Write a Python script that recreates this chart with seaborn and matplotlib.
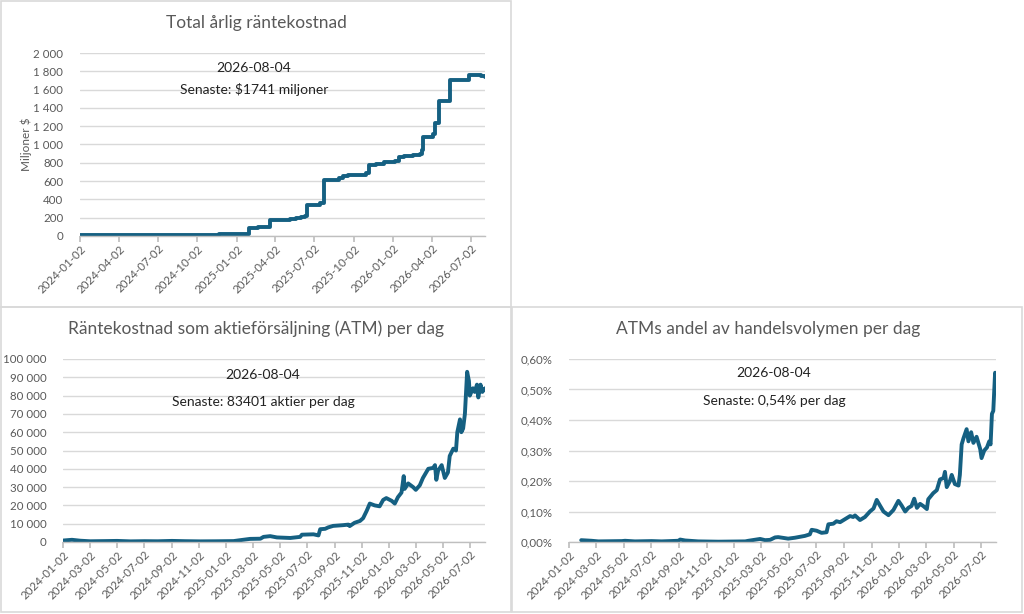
import pandas as pd
import matplotlib
matplotlib.use("Agg")
import matplotlib.pyplot as plt
import matplotlib.dates as mdates
import matplotlib.ticker as mticker
from matplotlib.patches import Rectangle
import seaborn as sns

# Total annual interest cost, step series (date of change, level in MUSD)
cost_dates = ["2024-01-02", "2024-06-13", "2024-07-04", "2024-09-30", "2024-10-15",
              "2024-11-21", "2025-01-30", "2025-02-20", "2025-03-20", "2025-04-20",
              "2025-05-05", "2025-05-21", "2025-06-01", "2025-06-09", "2025-06-14",
              "2025-07-14", "2025-07-25", "2025-08-29", "2025-09-06", "2025-09-18",
              "2025-10-11", "2025-10-31", "2025-11-07", "2025-11-23", "2025-12-12",
              "2026-01-05", "2026-01-16", "2026-01-28", "2026-02-16", "2026-03-05",
              "2026-03-09", "2026-03-12", "2026-04-04", "2026-04-10", "2026-04-18",
              "2026-05-14", "2026-06-28", "2026-07-26", "2026-07-31", "2026-08-04"]
cost_values = [10, 16, 9, 13, 9, 20, 85, 95, 172, 180,
               188, 195, 205, 220, 340, 360, 615, 630, 655, 665,
               672, 690, 780, 792, 810, 825, 860, 870, 885, 895,
               940, 1078, 1112, 1230, 1478, 1706, 1755, 1750, 1745, 1741]

# Shares sold via ATM per day
atm_dates = ["2024-01-02", "2024-01-22", "2024-02-10", "2024-03-03", "2024-04-05",
             "2024-05-02", "2024-06-01", "2024-07-03", "2024-08-01", "2024-09-02",
             "2024-10-01", "2024-11-04", "2024-12-10", "2025-01-18", "2025-02-02",
             "2025-02-24", "2025-03-19", "2025-03-26", "2025-04-10", "2025-04-25",
             "2025-05-25", "2025-06-16", "2025-06-20", "2025-07-16", "2025-07-27",
             "2025-07-31", "2025-08-11", "2025-08-18", "2025-08-29", "2025-09-20",
             "2025-10-02", "2025-10-05", "2025-10-16", "2025-10-28", "2025-11-04",
             "2025-11-12", "2025-11-19", "2025-11-30", "2025-12-11", "2025-12-19",
             "2025-12-26", "2026-01-07", "2026-01-14", "2026-01-21", "2026-01-29",
             "2026-02-03", "2026-02-05", "2026-02-13", "2026-02-24", "2026-03-02",
             "2026-03-11", "2026-03-18", "2026-03-30", "2026-04-10", "2026-04-14",
             "2026-04-17", "2026-04-21", "2026-04-29", "2026-05-06", "2026-05-13",
             "2026-05-17", "2026-05-25", "2026-05-31", "2026-06-03", "2026-06-09",
             "2026-06-12", "2026-06-16", "2026-06-20", "2026-06-25", "2026-06-29",
             "2026-07-01", "2026-07-08", "2026-07-12", "2026-07-17", "2026-07-20",
             "2026-07-25", "2026-07-29", "2026-08-04"]
atm_values = [800, 1200, 700, 400, 500, 600, 350, 450, 400, 600,
              450, 350, 400, 500, 1000, 1700, 1800, 2800, 3200, 2500,
              2200, 2800, 4000, 4200, 3600, 7000, 7200, 8000, 8800, 9200,
              9500, 8700, 10500, 11500, 13000, 17000, 21000, 20000, 19500, 23000,
              24000, 22500, 21000, 24500, 27000, 36000, 29000, 32000, 30000, 28500,
              31000, 35000, 40000, 40500, 42000, 34000, 39000, 42000, 35000, 38000,
              47000, 51000, 50000, 60000, 67000, 60000, 62000, 70000, 93000, 88000,
              80000, 84000, 82000, 86000, 79000, 86000, 82000, 84000]

# ATM share of daily trading volume (%)
share_dates = ["2024-01-29", "2024-02-21", "2024-03-07", "2024-04-28", "2024-05-05",
               "2024-05-27", "2024-07-03", "2024-07-25", "2024-08-31", "2024-09-04",
               "2024-09-15", "2024-10-14", "2024-11-28", "2025-01-26", "2025-02-02",
               "2025-02-28", "2025-03-11", "2025-03-22", "2025-04-02", "2025-04-09",
               "2025-05-01", "2025-05-16", "2025-06-07", "2025-06-18", "2025-06-22",
               "2025-07-03", "2025-07-14", "2025-07-25", "2025-07-29", "2025-08-09",
               "2025-08-16", "2025-08-24", "2025-09-04", "2025-09-15", "2025-09-22",
               "2025-09-26", "2025-10-07", "2025-10-18", "2025-10-29", "2025-11-06",
               "2025-11-13", "2025-11-20", "2025-11-28", "2025-12-09", "2025-12-20",
               "2025-12-31", "2026-01-07", "2026-01-15", "2026-01-22", "2026-01-29",
               "2026-02-04", "2026-02-10", "2026-02-17", "2026-02-24", "2026-03-04",
               "2026-03-07", "2026-03-18", "2026-03-26", "2026-04-02", "2026-04-10",
               "2026-04-13", "2026-04-17", "2026-04-24", "2026-04-28", "2026-05-05",
               "2026-05-13", "2026-05-16", "2026-05-20", "2026-05-24", "2026-05-31",
               "2026-06-04", "2026-06-10", "2026-06-15", "2026-06-22", "2026-06-30",
               "2026-07-03", "2026-07-09", "2026-07-15", "2026-07-20", "2026-07-23",
               "2026-07-26", "2026-07-29", "2026-08-02", "2026-08-04"]
share_values = [0.006, 0.004, 0.002, 0.003, 0.004, 0.002, 0.003, 0.002, 0.004, 0.008,
                0.005, 0.002, 0.001, 0.002, 0.004, 0.010, 0.006, 0.007, 0.015, 0.016,
                0.011, 0.014, 0.020, 0.025, 0.040, 0.037, 0.030, 0.032, 0.058, 0.060,
                0.068, 0.065, 0.075, 0.085, 0.082, 0.087, 0.072, 0.082, 0.100, 0.110,
                0.138, 0.120, 0.100, 0.088, 0.105, 0.135, 0.120, 0.100, 0.112, 0.118,
                0.142, 0.112, 0.125, 0.118, 0.108, 0.140, 0.160, 0.170, 0.205, 0.210,
                0.230, 0.180, 0.200, 0.220, 0.190, 0.185, 0.220, 0.320, 0.340, 0.370,
                0.330, 0.360, 0.325, 0.345, 0.305, 0.275, 0.300, 0.310, 0.330, 0.320,
                0.420, 0.430, 0.555, 0.545]

last_date = "2026-08-04"
LINE = "#156082"
GREY = "#595959"
GRID = "#d9d9d9"
W, H = 1024, 614

sns.set_theme(style="white")
plt.rcParams["font.family"] = ["Lato", "DejaVu Sans"]

fig = plt.figure(figsize=(W / 100, H / 100), dpi=100)


def box(x0, y0, x1, y1):
    # axes rect from pixel coords (top-left origin)
    return [x0 / W, 1 - y1 / H, (x1 - x0) / W, (y1 - y0) / H]


def space_thousands(v, pos):
    return f"{int(round(v)):,}".replace(",", " ")


def pct_comma(v, pos):
    return f"{v:.2f}%".replace(".", ",")


def style_axes(ax, ymax, ystep, fmt, months):
    ax.set_xlim(pd.Timestamp("2024-01-02"), pd.Timestamp(last_date))
    ax.set_ylim(0, ymax)
    ax.yaxis.set_major_locator(mticker.MultipleLocator(ystep))
    ax.yaxis.set_major_formatter(mticker.FuncFormatter(fmt))
    ax.xaxis.set_major_locator(mdates.MonthLocator(bymonth=months, bymonthday=2))
    ax.xaxis.set_major_formatter(mdates.DateFormatter("%Y-%m-%d"))
    ax.grid(axis="y", color=GRID, linewidth=1)
    ax.set_axisbelow(True)
    for s in ["top", "right", "left"]:
        ax.spines[s].set_visible(False)
    ax.spines["bottom"].set_color("#bfbfbf")
    ax.spines["bottom"].set_linewidth(1)
    ax.tick_params(axis="x", bottom=True, length=4, color="#bfbfbf",
                   labelsize=8.3, labelcolor=GREY, pad=1)
    ax.tick_params(axis="y", left=False, labelsize=8.3, labelcolor=GREY, pad=6)
    for lab in ax.get_xticklabels():
        lab.set_rotation(45)
        lab.set_ha("right")
        lab.set_rotation_mode("anchor")
    ax.set_xlabel("")
    ax.set_ylabel("")


def ptext(x, y, s, **kw):
    fig.text(x / W, 1 - y / H, s, ha="center", va="center", **kw)


# panel frames
for x0, y0, x1, y1 in [(1, 1, 511, 307), (1, 307, 511, 612), (512, 307, 1022, 612)]:
    fig.add_artist(Rectangle((x0 / W, 1 - y1 / H), (x1 - x0) / W, (y1 - y0) / H,
                             transform=fig.transFigure, fill=False,
                             edgecolor=GRID, linewidth=1.2))

# top-left
cost = pd.DataFrame({"date": pd.to_datetime(cost_dates), "value": cost_values})
ax1 = fig.add_axes(box(80, 53, 485, 236))
sns.lineplot(data=cost, x="date", y="value", ax=ax1, color=LINE,
             linewidth=2.8, drawstyle="steps-post")
style_axes(ax1, 2000, 200, space_thousands, [1, 4, 7, 10])
ax1.set_ylabel("Miljoner $", fontsize=8.5, color=GREY, labelpad=1)
ptext(256, 23, "Total årlig räntekostnad", fontsize=12.5, color=GREY)
ptext(254, 68, last_date, fontsize=10, color="#222222")
ptext(254, 89, "Senaste: $1741 miljoner", fontsize=10, color="#222222")

# bottom-left
atm = pd.DataFrame({"date": pd.to_datetime(atm_dates), "value": atm_values})
ax2 = fig.add_axes(box(63, 359, 485, 542))
sns.lineplot(data=atm, x="date", y="value", ax=ax2, color=LINE, linewidth=2.8)
style_axes(ax2, 100000, 10000, space_thousands, [1, 3, 5, 7, 9, 11])
ptext(256, 329, "Räntekostnad som aktieförsäljning (ATM) per dag", fontsize=12.5, color=GREY)
ptext(263, 375, last_date, fontsize=10, color="#222222")
ptext(263, 402, "Senaste: 83401 aktier per dag", fontsize=10, color="#222222")

# bottom-right
share = pd.DataFrame({"date": pd.to_datetime(share_dates), "value": share_values})
ax3 = fig.add_axes(box(569, 359, 996, 542))
sns.lineplot(data=share, x="date", y="value", ax=ax3, color=LINE, linewidth=2.8)
style_axes(ax3, 0.6, 0.1, pct_comma, [1, 3, 5, 7, 9, 11])
ptext(768, 329, "ATMs andel av handelsvolymen per dag", fontsize=12.5, color=GREY)
ptext(774, 373, last_date, fontsize=10, color="#222222")
ptext(774, 401, "Senaste: 0,54% per dag", fontsize=10, color="#222222")

fig.savefig("out.png", dpi=100)
